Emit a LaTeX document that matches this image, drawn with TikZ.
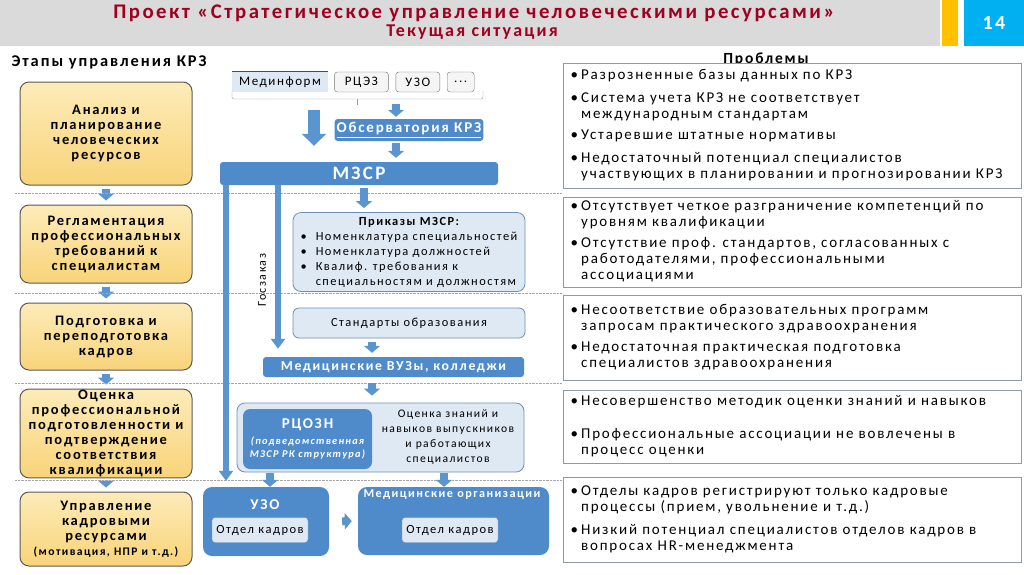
\documentclass[tikz,border=0pt]{standalone}
\usepackage{fontspec}
\setmainfont{Carlito}[LetterSpace=12]
\usetikzlibrary{positioning,arrows.meta}
\definecolor{titlegray}{HTML}{DADADA}
\definecolor{titlered}{HTML}{A0001E}
\definecolor{baryellow}{HTML}{FFC000}
\definecolor{numblue}{HTML}{00B0F0}
\definecolor{stagetop}{HTML}{FDEBB8}
\definecolor{stagebot}{HTML}{F8D47A}
\definecolor{midblue}{HTML}{4F8BCA}
\definecolor{arrowblue}{HTML}{5B95D0}
\definecolor{paleblue}{HTML}{DFE9F4}
\definecolor{edgeblue}{HTML}{6F8FB0}
\definecolor{probedge}{HTML}{8D9BA8}

\begin{document}
\begin{tikzpicture}[x=1pt, y=-1pt,
    stage/.style={rectangle, rounded corners=9pt, draw=black!65, line width=1pt, top color=stagetop, bottom color=stagebot, minimum width=172pt, align=center, inner sep=1pt, font=\bfseries\fontsize{14.5}{15}\selectfont},
    srcbox/.style={rectangle, rounded corners=3pt, draw=black!55, fill=black!4, minimum height=20pt, inner sep=2pt, font=\fontsize{13}{14}\selectfont},
    bluebox/.style={rectangle, rounded corners=3pt, fill=midblue, text=white, inner sep=2pt, font=\bfseries\fontsize{13.8}{15}\selectfont},
    palebox/.style={rectangle, rounded corners=8pt, draw=edgeblue, fill=paleblue, line width=0.8pt, inner sep=2pt, font=\fontsize{12.4}{15}\selectfont},
    okbox/.style={rectangle, rounded corners=3pt, draw=edgeblue, fill=paleblue, minimum width=96pt, minimum height=25pt, font=\fontsize{12.5}{14}\selectfont},
    probbox/.style={rectangle, draw=probedge, line width=1pt, fill=white, minimum width=458pt},
    probtext/.style={inner sep=0pt, font=\fontsize{15}{16}\selectfont},
    barrow/.style={arrowblue, line width=8pt, -{Triangle[width=16pt,length=7pt]}},
    bigarrow/.style={arrowblue, line width=12pt, -{Triangle[width=24pt,length=12pt]}},
    longarrow/.style={arrowblue, line width=6pt, -{Triangle[width=14pt,length=10pt]}},
]
\useasboundingbox (0,0) rectangle (1024,574);

% title
\fill[titlegray] (0,0) rectangle (940,46);
\fill[baryellow] (942,0) rectangle (958,46);
\node[fill=numblue, minimum width=60pt, minimum height=46pt, text=white, font=\bfseries\fontsize{20}{22}\selectfont] (pagenum) at (994,23) {14};
\node[text=titlered, font=\bfseries\fontsize{20.8}{22}\selectfont] (title) at (474,13) {Проект «Стратегическое управление человеческими ресурсами»};
\node[text=titlered, font=\bfseries\fontsize{18}{20}\selectfont] (subtitle) at (472,32) {Текущая ситуация};

% stages
\node[anchor=west, font=\bfseries\fontsize{16.4}{18}\selectfont] (stagehead) at (8,62) {Этапы управления КРЗ};
\node[stage, minimum height=103pt] (st1) at (106,133.5) {Анализ и\\планирование\\человеческих\\ресурсов};
\node[stage, minimum height=78pt] (st2) at (106,244) {Регламентация\\профессиональных\\требований к\\специалистам};
\node[stage, minimum height=67pt] (st3) at (106,336.5) {Подготовка и\\переподготовка\\кадров};
\node[stage, minimum height=83pt] (st4) at (106,433.5) {Оценка\\профессиональной\\подготовленности и\\подтверждение\\соответствия\\квалификации};
\node[stage, minimum height=74pt] (st5) at (106,529) {Управление\\кадровыми\\ресурсами\\{\fontsize{11.6}{13}\selectfont(мотивация, НПР и т.д.)}};
\foreach \a/\b in {st1/st2, st2/st3, st3/st4, st4/st5}
  \draw[barrow, shorten <=3pt, shorten >=4pt] (\a) -- (\b);

% separators
\foreach \y in {193, 293, 383, 480}
  \draw[densely dotted, black!35] (15,\y) -- (562,\y);

% sources
\node[srcbox, draw=none, fill=paleblue, minimum width=96pt, rounded corners=0pt] (medinform) at (280,82) {Мединформ};
\draw[black!70, line width=0.8pt] (medinform.north west) -- (medinform.north east);
\node[srcbox, minimum width=54pt, right=6pt of medinform] (rcez) {РЦЭЗ};
\node[srcbox, minimum width=44pt, right=7pt of rcez] (uzosrc) {УЗО};
\node[srcbox, minimum width=27pt, right=7pt of uzosrc] (dots) {...};
\draw[black!40, rounded corners=2pt] (232,91) -- (232,99) -- (483,99) -- (483,91);
\draw[black!40] (357,99) -- (357,105);

% ministry
\node[bluebox, minimum width=148pt, minimum height=22pt, font=\bfseries\fontsize{15}{16}\selectfont] (obs) at (409,130) {\underline{Обсерватория КРЗ}};
\node[bluebox, minimum width=278pt, minimum height=23pt, font=\bfseries\fontsize{19}{20}\selectfont] (mzsr) at (359,173.5) {МЗСР};
\coordinate (bigtop) at (314,110);
\coordinate (obsin) at (396,104);
\draw[bigarrow, shorten >=16pt] (bigtop) -- (bigtop |- mzsr.north);
\draw[barrow, shorten >=2pt] (obsin) -- (obsin |- obs.north);
\draw[barrow, shorten <=2pt, shorten >=4pt] (obs.south -| obsin) -- (mzsr.north -| obsin);

% orders and education
\node[palebox, minimum width=232pt, minimum height=74pt] (prikaz) at (409,252) {\begin{tabular}{@{}l@{\hspace{9pt}}l@{}}
\multicolumn{2}{c}{\bfseries Приказы МЗСР:}\\
\textbullet & Номенклатура специальностей\\
\textbullet & Номенклатура должностей\\
\textbullet & Квалиф. требования к\\
 & специальностям и должностям
\end{tabular}};
\node[palebox, minimum width=232pt, minimum height=30pt, rounded corners=6pt] (standart) at (409,323) {Стандарты образования};
\node[bluebox, minimum width=261pt, minimum height=20pt] (vuz) at (393.5,367) {Медицинские ВУЗы, колледжи};

% assessment
\node[palebox, minimum width=287pt, minimum height=69pt] (ocbox) at (380.5,437.5) {};
\node[bluebox, rounded corners=7pt, minimum width=129pt, minimum height=60pt, align=center, font=\bfseries\fontsize{15}{13}\selectfont] (rcozn) at (307.5,439) {РЦОЗН\\[3pt]{\itshape\fontsize{10.4}{14}\selectfont(подведомственная}\\{\itshape\fontsize{10.4}{14}\selectfont МЗСР РК структура)}};
\node[align=center, font=\fontsize{11.6}{15}\selectfont] (ocenka) at (448,437.5) {Оценка знаний и\\навыков выпускников\\и работающих\\специалистов};

% organisations
\node[bluebox, rounded corners=9pt, minimum width=126pt, minimum height=69pt] (uzo) at (266,521.5) {};
\node[text=white, font=\bfseries\fontsize{15}{17}\selectfont] (uzolabel) at (265,505) {УЗО};
\node[okbox] (ok1) at (260,530) {Отдел кадров};
\node[bluebox, rounded corners=9pt, minimum width=191pt, minimum height=68pt] (medorg) at (453.5,521) {};
\node[text=white, font=\bfseries\fontsize{12.2}{14}\selectfont] (medorglabel) at (452,495) {Медицинские организации};
\node[okbox] (ok2) at (450,530) {Отдел кадров};

% flows
\coordinate (c1) at (226,0);
\coordinate (c2) at (278,0);
\coordinate (c3) at (364,0);
\coordinate (c4) at (372,0);
\coordinate (c5) at (270,0);
\coordinate (c6) at (444,0);
\draw[longarrow, shorten >=6pt] (mzsr.south -| c1) -- (uzo.north -| c1);
\draw[longarrow, shorten >=8pt] (mzsr.south -| c2) -- (vuz.north -| c2);
\node[rotate=90, font=\fontsize{12}{14}\selectfont] (goszakaz) at (262,280) {Госзаказ};
\draw[barrow, shorten <=3pt, shorten >=4pt] (mzsr.south -| c3) -- (prikaz.north -| c3);
\draw[barrow, shorten <=4pt, shorten >=4pt] (standart.south -| c4) -- (vuz.north -| c4);
\draw[barrow, shorten <=6pt, shorten >=7pt] (vuz.south -| c4) -- (ocbox.north -| c4);
\draw[barrow, shorten <=4pt] (rcozn.south -| c5) -- (uzo.north -| c5);
\draw[barrow, shorten <=1pt] (ocbox.south -| c6) -- (medorg.north -| c6);
\draw[barrow, shorten <=13pt, shorten >=6pt] (uzo.east) -- (medorg.west);

% problems
\node[font=\bfseries\fontsize{15.5}{17}\selectfont] (probhead) at (766,59) {Проблемы};
\node[probbox, minimum height=125pt] (pb1) at (792,125.5) {};
\node[probbox, minimum height=90pt] (pb2) at (792,242) {};
\node[probbox, minimum height=85pt] (pb3) at (792,337.5) {};
\node[probbox, minimum height=73pt] (pb4) at (792,426.5) {};
\node[probbox, minimum height=85pt] (pb5) at (792,519.5) {};
\node[probtext, right=8pt of pb1.west] (pt1) {\begin{tabular}{@{}l@{\hspace{3pt}}l@{}}
\textbullet & Разрозненные базы данных по КРЗ\\[7pt]
\textbullet & Система учета КРЗ не соответствует\\
 & международным стандартам\\[5pt]
\textbullet & Устаревшие штатные нормативы\\[7pt]
\textbullet & Недостаточный потенциал специалистов\\
 & участвующих в планировании и прогнозировании КРЗ
\end{tabular}};
\node[probtext, right=8pt of pb2.west] (pt2) {\begin{tabular}{@{}l@{\hspace{3pt}}l@{}}
\textbullet & Отсутствует четкое разграничение компетенций по\\
 & уровням квалификации\\[5pt]
\textbullet & Отсутствие проф. стандартов, согласованных с\\
 & работодателями, профессиональными\\
 & ассоциациями
\end{tabular}};
\node[probtext, right=8pt of pb3.west] (pt3) {\begin{tabular}{@{}l@{\hspace{3pt}}l@{}}
\textbullet & Несоответствие образовательных программ\\
 & запросам практического здравоохранения\\[5pt]
\textbullet & Недостаточная практическая подготовка\\
 & специалистов здравоохранения
\end{tabular}};
\node[probtext, right=8pt of pb4.west] (pt4) {\begin{tabular}{@{}l@{\hspace{3pt}}l@{}}
\textbullet & Несовершенство методик оценки знаний и навыков\\[17pt]
\textbullet & Профессиональные ассоциации не вовлечены в\\
 & процесс оценки
\end{tabular}};
\node[probtext, right=8pt of pb5.west] (pt5) {\begin{tabular}{@{}l@{\hspace{3pt}}l@{}}
\textbullet & Отделы кадров регистрируют только кадровые\\
 & процессы (прием, увольнение и т.д.)\\[7pt]
\textbullet & Низкий потенциал специалистов отделов кадров в\\
 & вопросах HR-менеджмента
\end{tabular}};
\end{tikzpicture}
\end{document}
